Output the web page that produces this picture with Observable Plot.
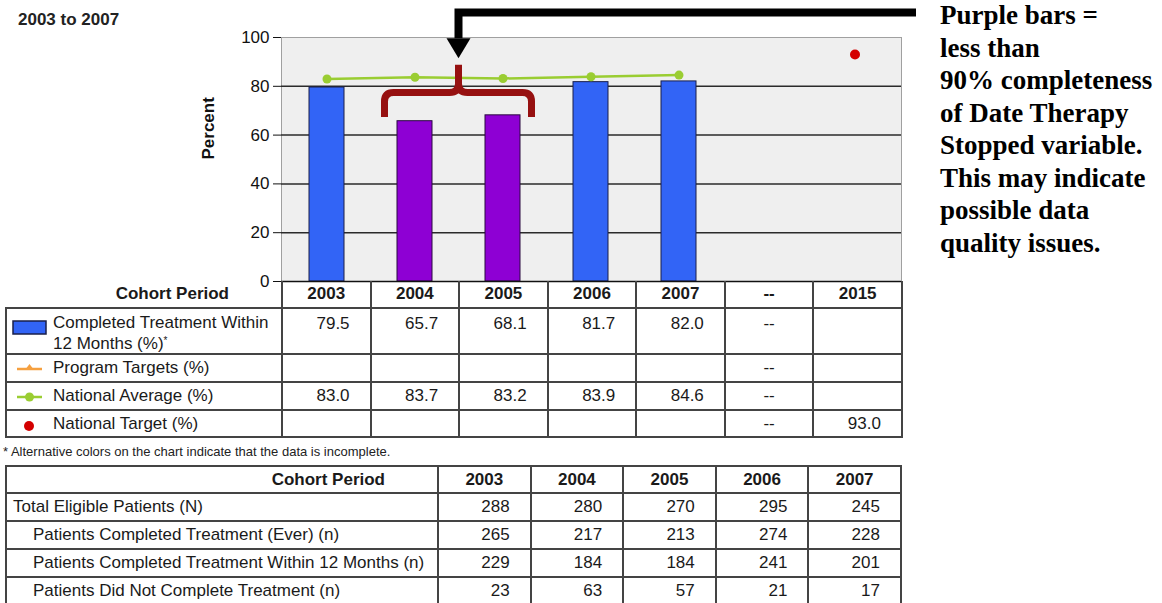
<!DOCTYPE html>
<html>
<head>
<meta charset="utf-8">
<script src="https://cdn.jsdelivr.net/npm/d3@7"></script>
<script src="https://cdn.jsdelivr.net/npm/@observablehq/plot@0.6"></script>
<style>
  body { margin: 0; background: #fff; }
  #page { position: relative; width: 1162px; height: 603px; overflow: hidden;
          font-family: "Liberation Sans", Arial, sans-serif; color: #111; }
  #title { position: absolute; left: 18px; top: 10px; font-weight: bold; font-size: 17px; color: #222; }
  #chart { position: absolute; left: 0; top: 0; }
  #note { position: absolute; left: 940px; top: -1px; font-family: "Liberation Serif", "Times New Roman", serif;
          font-weight: bold; font-size: 27px; line-height: 32.5px; color: #000; white-space: nowrap; }
  #foot { position: absolute; left: 3px; top: 444px; font-size: 13px; color: #222; white-space: nowrap; }
  table { position: absolute; border-collapse: collapse; table-layout: fixed; font-size: 17px; color: #1a1a1a; }
  td, th { border: 2px solid #444; padding: 0; box-sizing: border-box; }
  th { font-weight: bold; text-align: center; }
  td.num { text-align: right; padding-right: 20px; }
  td.dash { text-align: center; }
  #t1 { left: 5px; top: 281px; width: 896px; }
  #t1 tr.hd th { border-top: none; }
  #t1 tr.hd th.c0 { border-left: none; text-align: right; padding-right: 52px; }
  #t1 td.lab { position: relative; padding-left: 46px; line-height: 18px; }
  #t1 td.lab svg { position: absolute; left: 4px; top: 50%; margin-top: -10px; }
  #t1 tr.tall td { vertical-align: top; padding-top: 5px; }
  #t1 tr.tall td.lab svg { top: 8px; margin-top: 0; }
  #t2 { left: 5px; top: 465px; width: 895px; }
  #t2 th.c0 { text-align: right; padding-right: 52px; }
  #t2 td.lab { padding-left: 6px; }
  #t2 td.lab.sub { padding-left: 26px; }
  sup { font-size: 10px; vertical-align: 5px; }
</style>
</head>
<body>
<div id="page">
  <div id="title">2003 to 2007</div>
  <div id="chart"></div>
  <div id="note">Purple bars =<br>less than<br>90% completeness<br>of Date Therapy<br>Stopped variable.<br>This may indicate<br>possible data<br>quality issues.</div>
  <table id="t1"></table>
  <div id="foot">* Alternative colors on the chart indicate that the data is incomplete.</div>
  <table id="t2"></table>
</div>
<script>
// Cohort periods shown along the chart and in the summary table
const periods = ["2003", "2004", "2005", "2006", "2007", "--", "2015"];
const cohortYears = ["2003", "2004", "2005", "2006", "2007"];

// Completed treatment within 12 months (%) and data completeness flag per cohort
const completed12 = [79.5, 65.7, 68.1, 81.7, 82.0];
const incomplete = [false, true, true, false, false];

// National average (%) per cohort
const nationalAvg = [83.0, 83.7, 83.2, 83.9, 84.6];

// National target (%)
const targetYears = ["2015"];
const nationalTarget = [93.0];

// Program targets (%) — none reported
const programTargets = [];

const yTicks = [0, 20, 40, 60, 80, 100];

// Patient counts per cohort
const countLabels = [
  "Total Eligible Patients (N)",
  "Patients Completed Treatment (Ever) (n)",
  "Patients Completed Treatment Within 12 Months (n)",
  "Patients Did Not Complete Treatment (n)"
];
const totalEligible = [288, 280, 270, 295, 245];
const completedEver = [265, 217, 213, 274, 228];
const completedWithin12 = [229, 184, 184, 241, 201];
const notCompleted = [23, 63, 57, 21, 17];

const BLUE = "#3264f6", PURPLE = "#8e00d4", GREEN = "#9acd32", RED = "#d40000", ORANGE = "#f5a040";

const bars = cohortYears.map((year, i) => ({year, value: completed12[i], incomplete: incomplete[i]}));
const avg = cohortYears.map((year, i) => ({year, value: nationalAvg[i]}));
const target = targetYears.map((year, i) => ({year, value: nationalTarget[i]}));

const plot = Plot.plot({
  width: 1162,
  height: 284,
  marginLeft: 281,
  marginRight: 261,
  marginTop: 37,
  marginBottom: 3,
  style: {fontFamily: "'Liberation Sans', Arial, sans-serif", fontSize: "17px", color: "#111", background: "transparent", overflow: "visible"},
  x: {domain: periods, paddingInner: 0.6, paddingOuter: 0.3, axis: null},
  y: {domain: [0, 100], ticks: yTicks, tickSize: 8, tickPadding: 4, label: null, line: true},
  marks: [
    Plot.frame({fill: "#efefef", stroke: "#a0a0a0"}),
    Plot.ruleY(yTicks.filter(t => t > 0 && t < 100), {stroke: "#2a2a2a", strokeWidth: 1.5}),
    Plot.barY(bars.filter(d => !d.incomplete), {x: "year", y: "value", fill: BLUE, stroke: "#1a1f4a", strokeWidth: 1}),
    Plot.barY(bars.filter(d => d.incomplete), {x: "year", y: "value", fill: PURPLE, stroke: "#2a0a40", strokeWidth: 1}),
    Plot.line(avg, {x: "year", y: "value", stroke: GREEN, strokeWidth: 2.5}),
    Plot.dot(avg, {x: "year", y: "value", r: 4.5, fill: GREEN}),
    Plot.dot(target, {x: "year", y: "value", r: 5, fill: RED}),
    Plot.ruleY([0], {stroke: "#111", strokeWidth: 1.5}),
    Plot.text(["Percent"], {frameAnchor: "left", dx: -73, rotate: -90, fontWeight: "bold", fontSize: 17})
  ]
});
document.getElementById("chart").append(plot);

// Call-out: arrow pointing at the two incomplete cohorts, and a brace grouping them
const svg = plot.tagName.toLowerCase() === "svg" ? plot : plot.querySelector("svg");
const sx = plot.scale("x"), sy = plot.scale("y");
const bw = sx.bandwidth;
const flagged = bars.filter(d => d.incomplete).map(d => sx.apply(d.year) + bw / 2);
const left = d3.min(flagged), right = d3.max(flagged);
const mid = (left + right) / 2;
const g = d3.select(svg).append("g");

const lineY = sy.apply(110), headTop = sy.apply(99.5), tip = sy.apply(91.3);
const lineEnd = sx.range[1] + 15;
g.append("path")
  .attr("d", `M${lineEnd},${lineY}H${mid}V${headTop}`)
  .attr("fill", "none").attr("stroke", "#000").attr("stroke-width", 8)
  .attr("stroke-linejoin", "miter");
g.append("path")
  .attr("d", `M${mid - 12},${headTop}L${mid + 12},${headTop}L${mid},${tip}Z`)
  .attr("fill", "#000");

const bL = left - 30, bR = right + 29;
const yEnd = sy.apply(67.2), yBar = sy.apply(77.3), yPeak = sy.apply(88.6);
const r = 9;
g.append("path")
  .attr("d", `M${bL},${yEnd}V${yBar + r}Q${bL},${yBar} ${bL + r},${yBar}H${mid - r}Q${mid},${yBar} ${mid},${yBar - r}V${yPeak}` +
             `M${mid},${yBar - r}Q${mid},${yBar} ${mid + r},${yBar}H${bR - r}Q${bR},${yBar} ${bR},${yBar + r}V${yEnd}`)
  .attr("fill", "none").attr("stroke", "#961010").attr("stroke-width", 7)
  .attr("stroke-linejoin", "round");

// Summary table under the chart
const fmt = v => v == null ? "" : v.toFixed(1);
const byYear = (years, values) => Object.fromEntries(years.map((y, i) => [y, values[i]]));
const rowCells = map => periods.map(p => p === "--"
  ? `<td class="dash">--</td>`
  : `<td class="num">${fmt(map[p])}</td>`).join("");

const icons = {
  bar: `<svg width="40" height="20"><rect x="2" y="4" width="33" height="13" fill="${BLUE}" stroke="#1a1f4a" stroke-width="1.5"/></svg>`,
  prog: `<svg width="40" height="20"><line x1="6" x2="31" y1="11" y2="11" stroke="${ORANGE}" stroke-width="2.5"/><path d="M18.5,6L23,12H14Z" fill="${ORANGE}"/></svg>`,
  avg: `<svg width="40" height="20"><line x1="6" x2="31" y1="11" y2="11" stroke="${GREEN}" stroke-width="2.5"/><circle cx="18.5" cy="11" r="4.5" fill="${GREEN}"/></svg>`,
  target: `<svg width="40" height="20"><circle cx="18" cy="12" r="5" fill="${RED}"/></svg>`
};

const t1 = document.getElementById("t1");
t1.innerHTML =
  `<colgroup><col style="width:276px">${periods.map(() => `<col style="width:88.57px">`).join("")}</colgroup>` +
  `<tr class="hd" style="height:27px"><th class="c0">Cohort Period</th>${periods.map(p => `<th>${p}</th>`).join("")}</tr>` +
  `<tr class="tall" style="height:46px"><td class="lab">${icons.bar}Completed Treatment Within<br>12 Months (%)<sup>*</sup></td>${rowCells(byYear(cohortYears, completed12))}</tr>` +
  `<tr style="height:28px"><td class="lab">${icons.prog}Program Targets (%)</td>${rowCells(byYear([], programTargets))}</tr>` +
  `<tr style="height:28px"><td class="lab">${icons.avg}National Average (%)</td>${rowCells(byYear(cohortYears, nationalAvg))}</tr>` +
  `<tr style="height:27px"><td class="lab">${icons.target}National Target (%)</td>${rowCells(byYear(targetYears, nationalTarget))}</tr>`;

// Patient counts table
const counts = [totalEligible, completedEver, completedWithin12, notCompleted];
const t2 = document.getElementById("t2");
t2.innerHTML =
  `<colgroup><col style="width:432px">${cohortYears.map(() => `<col style="width:92.6px">`).join("")}</colgroup>` +
  `<tr style="height:27px"><th class="c0">Cohort Period</th>${cohortYears.map(y => `<th>${y}</th>`).join("")}</tr>` +
  counts.map((vals, i) =>
    `<tr style="height:28px"><td class="lab${i > 0 ? " sub" : ""}">${countLabels[i]}</td>${vals.map(v => `<td class="num">${v}</td>`).join("")}</tr>`
  ).join("");
</script>
</body>
</html>
